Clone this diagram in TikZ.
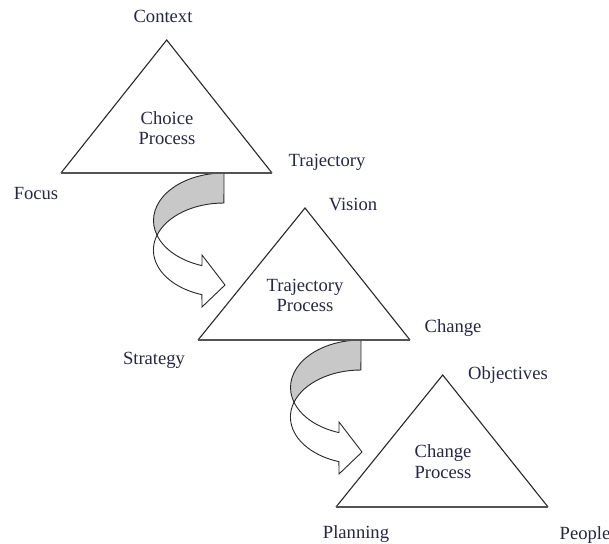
\documentclass[tikz,border=0pt]{standalone}
\usepackage{fontspec}
\setmainfont{Liberation Serif}
\definecolor{txt}{RGB}{38,38,70}
\definecolor{ln}{RGB}{40,40,40}
\definecolor{band}{RGB}{200,200,200}
\tikzset{
  lbl/.style={text=txt, font=\fontsize{18.6}{20}\selectfont, inner sep=0pt, anchor=base},
  tri/.style={draw=ln, line width=1.1pt, line join=miter},
  basel/.style={draw=ln!80, line width=1.6pt},
  twist/.pic={
    % back face (grey)
    \path[draw=ln, line width=0.9pt, fill=band]
      (0,0) arc[start angle=90, end angle=198.1, x radius=70.5pt, y radius=47.5pt]
      arc[start angle=161.7, end angle=90, x radius=70.5pt, y radius=47pt] -- cycle;
    % front face with head (white)
    \path[draw=ln, line width=0.9pt, fill=white]
      (-67,-62.26) arc[start angle=161.7, end angle=251.8, x radius=70.5pt, y radius=47pt]
      -- (-22,-134) -- (1,-112) -- (-22,-82) -- (-22,-92.6)
      arc[start angle=251.8, end angle=198.1, x radius=70.5pt, y radius=47.5pt] -- cycle;
  }
}
\begin{document}
\begin{tikzpicture}[x=1pt,y=1pt]
\useasboundingbox (0,0) rectangle (609,543);

% twisted arrows
\pic at (224,370) {twist};
\pic at (361,203) {twist};

% triangles
\draw[tri] (61,370) -- (166.7,503) -- (272,370);
\draw[basel] (61,370) -- (272,370);
\draw[tri] (198,203) -- (305,335) -- (410,203);
\draw[basel] (198,203) -- (410,203);
\draw[tri] (336,36) -- (442.7,168) -- (548,36);
\draw[basel] (336,36) -- (548,36);

% labels
\node[lbl] (context) at (163,520) {Context};
\node[lbl] (choice1) at (167,418) {Choice};
\node[lbl] (choice2) at (167,398) {Process};
\node[lbl] (traj) at (327,376) {Trajectory};
\node[lbl] (focus) at (36,343.7) {Focus};
\node[lbl] (vision) at (353,332.3) {Vision};
\node[lbl] (tp1) at (305,251.3) {Trajectory};
\node[lbl] (tp2) at (305,231.3) {Process};
\node[lbl] (change) at (453,210.3) {Change};
\node[lbl] (strategy) at (154,178) {Strategy};
\node[lbl] (objectives) at (508,163) {Objectives};
\node[lbl] (cp1) at (443,85.7) {Change};
\node[lbl] (cp2) at (443,64.7) {Process};
\node[lbl] (planning) at (356,4.7) {Planning};
\node[lbl] (people) at (585,3.3) {People};
\end{tikzpicture}
\end{document}
